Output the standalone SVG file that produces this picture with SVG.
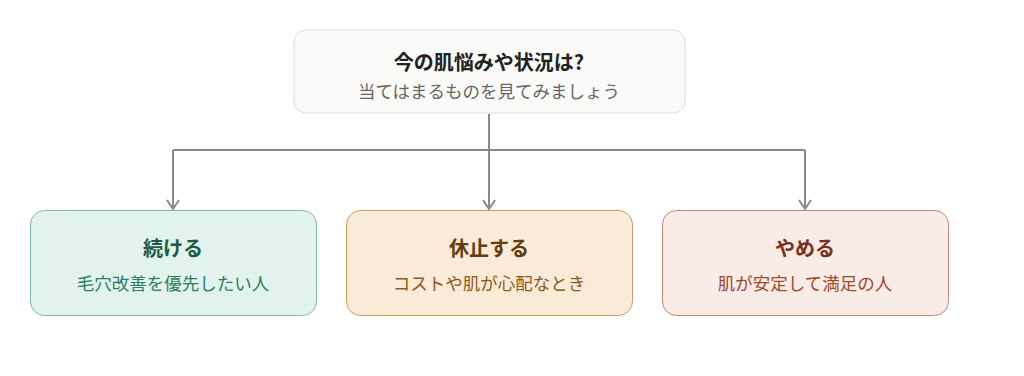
<svg xmlns="http://www.w3.org/2000/svg" width="1024" height="376" viewBox="0 0 1024 376">
<style>
text{font-family:"Noto Sans CJK JP","Noto Sans",sans-serif;text-anchor:middle}
.t{font-size:20px;font-weight:bold}
.s{font-size:17.5px}
.conn{fill:none;stroke:#8a8a86;stroke-width:2}
</style>
<rect width="1024" height="376" fill="#fff"/>
<g id="connectors">
<path class="conn" d="M489 114 V209"/>
<path class="conn" d="M173 150 H805"/>
<path class="conn" d="M173 150 V209"/>
<path class="conn" d="M805 150 V209"/>
<path class="conn" d="M167 200 L173 209 L179 200"/>
<path class="conn" d="M483 200 L489 209 L495 200"/>
<path class="conn" d="M799 200 L805 209 L811 200"/>
</g>
<g id="root">
<rect x="294" y="30" width="391" height="83" rx="12" fill="#fafaf8" stroke="#deddd8" stroke-width="1"/>
<text class="t" x="489" y="70" fill="#222">今の肌悩みや状況は?</text>
<text class="s" x="489" y="98" fill="#666">当てはまるものを見てみましょう</text>
</g>
<g id="continue">
<rect x="30.5" y="210.5" width="286" height="105" rx="14" fill="#e1f3ec" stroke="#7dbba5" stroke-width="1"/>
<text class="t" x="173" y="256" fill="#1d5a44">続ける</text>
<text class="s" x="173" y="290" fill="#2f7d5e">毛穴改善を優先したい人</text>
</g>
<g id="pause">
<rect x="346.5" y="210.5" width="286" height="105" rx="14" fill="#faebd8" stroke="#c89e68" stroke-width="1"/>
<text class="t" x="489" y="256" fill="#633c0c">休止する</text>
<text class="s" x="489" y="290" fill="#8c5a1c">コストや肌が心配なとき</text>
</g>
<g id="stop">
<rect x="662.5" y="210.5" width="286" height="105" rx="14" fill="#f9ebe6" stroke="#c98773" stroke-width="1"/>
<text class="t" x="805" y="256" fill="#76311d">やめる</text>
<text class="s" x="805" y="290" fill="#a0482e">肌が安定して満足の人</text>
</g>
</svg>
